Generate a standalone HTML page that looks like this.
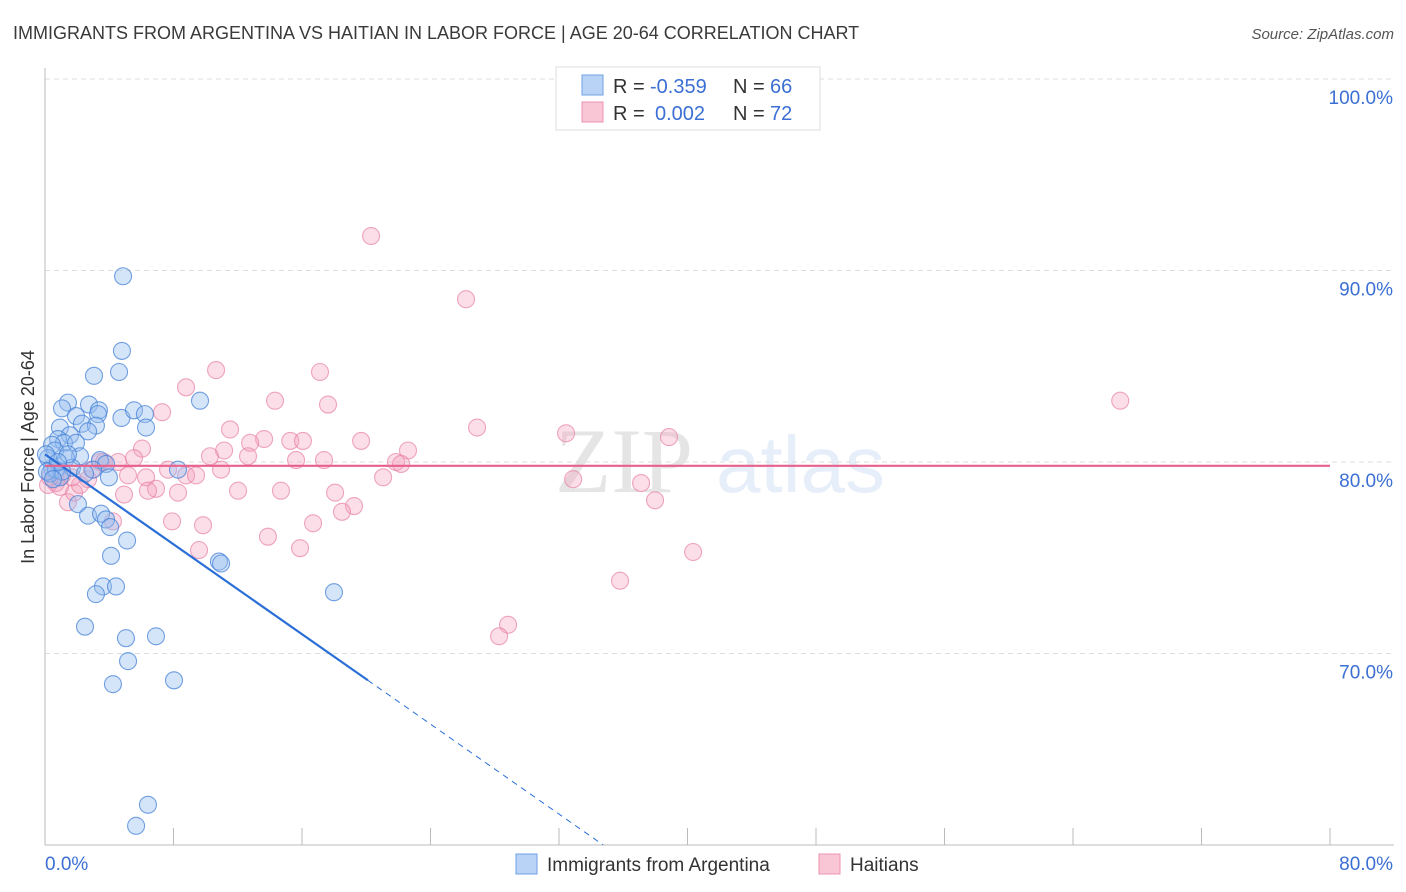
<!DOCTYPE html>
<html><head><meta charset="utf-8"><style>
body{margin:0;background:#fff;font-family:"Liberation Sans",sans-serif}
svg{display:block}
</style></head><body>
<svg id="chart" width="1406" height="892" xmlns="http://www.w3.org/2000/svg" font-family="Liberation Sans, sans-serif">
<text x="13" y="39" font-size="18" fill="#3a3a3a">IMMIGRANTS FROM ARGENTINA VS HAITIAN IN LABOR FORCE | AGE 20-64 CORRELATION CHART</text>
<text x="1394" y="39" font-size="15" fill="#555" text-anchor="end" font-style="italic">Source: ZipAtlas.com</text>
<g opacity="0.12"><text x="555" y="492" font-size="92" font-family="Liberation Serif, serif" fill="#333">ZIP</text><text x="716" y="492" font-size="80" fill="#3b78d8">atlas</text></g>
<g id="grid"></g>
<g id="axes"></g>
<g id="marks"></g>
<g>
<rect x="556" y="67" width="264" height="63" fill="#fff" stroke="#ddd"/>
<rect x="582" y="75" width="21" height="20" fill="#b8d3f5" stroke="#6fa0e6"/>
<rect x="582" y="102" width="21" height="20" fill="#f9c6d6" stroke="#ec92b0"/>
<text x="613" y="93" font-size="20" fill="#333">R =</text>
<text x="650" y="93" font-size="20" fill="#3b6fd4">-0.359</text>
<text x="733" y="93" font-size="20" fill="#333">N =</text>
<text x="770" y="93" font-size="20" fill="#3b6fd4">66</text>
<text x="613" y="120" font-size="20" fill="#333">R =</text>
<text x="655" y="120" font-size="20" fill="#3b6fd4">0.002</text>
<text x="733" y="120" font-size="20" fill="#333">N =</text>
<text x="770" y="120" font-size="20" fill="#3b6fd4">72</text>
</g>
<g>
<rect x="516" y="854" width="21" height="20" fill="#b8d3f5" stroke="#6fa0e6"/>
<text x="547" y="871" font-size="19" fill="#333">Immigrants from Argentina</text>
<rect x="819" y="854" width="21" height="20" fill="#f9c6d6" stroke="#ec92b0"/>
<text x="850" y="871" font-size="19" fill="#333">Haitians</text>
</g>
<text transform="translate(34,457) rotate(-90)" font-size="18" fill="#333" text-anchor="middle">In Labor Force | Age 20-64</text>
</svg>
<script>
const blueX=[4.86,4.79,4.61,3.05,9.65,1.43,1.06,2.74,3.36,3.30,4.76,5.54,6.22,1.93,2.30,3.17,6.29,0.93,2.68,1.55,0.81,1.18,0.44,1.93,0.62,2.18,1.31,3.42,3.80,1.68,8.28,2.99,0.44,0.93,3.98,2.05,2.68,3.49,3.80,4.05,5.11,4.11,10.83,10.96,3.61,4.42,3.17,17.99,2.49,5.04,6.91,5.17,8.03,4.23,6.41,5.67,0.19,0.31,0.68,1.06,0.06,1.43,2.49,0.81,0.12,0.50];
const blueY=[89.7,85.8,84.7,84.5,83.2,83.1,82.8,83.0,82.7,82.5,82.3,82.7,82.5,82.4,82.0,81.9,81.8,81.8,81.6,81.4,81.2,81.0,80.9,81.0,80.6,80.3,80.2,80.1,79.9,79.7,79.6,79.6,79.7,79.2,79.2,77.8,77.2,77.3,77.0,76.6,75.9,75.1,74.8,74.7,73.5,73.5,73.1,73.2,71.4,70.8,70.9,69.6,68.6,68.4,62.1,61.0,80.2,79.4,79.6,79.5,80.4,80.4,79.4,80.0,79.5,79.1];
const pinkX=[20.30,26.21,66.94,10.65,17.12,8.78,14.32,17.62,7.29,26.90,32.44,38.85,11.52,13.64,12.77,15.27,16.06,19.68,6.04,11.15,22.60,10.27,12.64,15.63,17.37,21.85,22.17,5.54,4.55,3.42,7.66,8.78,9.40,10.96,5.17,6.29,6.91,6.41,8.28,2.68,21.05,32.88,37.11,12.02,14.69,18.06,4.92,19.24,18.49,37.98,1.43,1.81,7.91,4.23,9.84,16.69,13.88,15.88,9.59,40.35,35.80,28.83,28.27,0.19,0.68,0.93,2.18,0.31,2.93,3.67,1.68,1.06];
const pinkY=[91.8,88.5,83.2,84.8,84.7,83.9,83.2,83.0,82.6,81.8,81.5,81.3,81.7,81.2,81.0,81.1,81.1,81.1,80.7,80.6,80.6,80.3,80.3,80.1,80.1,80.0,79.9,80.2,80.0,80.0,79.6,79.3,79.3,79.6,79.3,79.2,78.6,78.5,78.4,79.1,79.2,79.1,78.9,78.5,78.5,78.4,78.3,77.7,77.4,78.0,77.9,78.4,76.9,76.9,76.7,76.8,76.1,75.5,75.4,75.3,73.8,71.5,70.9,78.8,78.9,78.7,78.8,79.2,79.6,80.0,79.2,79.3];
const yTicks=[100,90,80,70];
const yTickLabels=["100.0%","90.0%","80.0%","70.0%"];
const xTicks=[0,8,16,24,32,40,48,56,64,72,80];
const blueTrend=[80.4,-0.587];
const pinkTrend=[79.8,0.0];
const X0=45,X1=1330,Y0=845,Y1=79;
const xs=v=>X0+(v/80)*(X1-X0);
const ys=v=>Y1+(100-v)*(Y1-Y0)/-40;
const NS="http://www.w3.org/2000/svg";
function mk(tag,attrs,parent){const e=document.createElementNS(NS,tag);for(const k in attrs)e.setAttribute(k,attrs[k]);parent.appendChild(e);return e;}
const grid=document.getElementById('grid'),axes=document.getElementById('axes'),marks=document.getElementById('marks');
yTicks.forEach((t,i)=>{
 const l=mk('line',{x1:X0,x2:1394,y1:ys(t),y2:ys(t),stroke:'#ddd','stroke-dasharray':'5,4'},grid);
 
 
 const tx=mk('text',{x:1393,y:ys(t)+25,'font-size':19,fill:'#3b6fd4','text-anchor':'end'},axes);
 tx.textContent=yTickLabels[i];
 
 
});
const ya=mk('line',{x1:X0,x2:X0,y1:68,y2:Y0,stroke:'#bbb'},axes);


const xa=mk('line',{x1:X0,x2:1394,y1:Y0,y2:Y0,stroke:'#bbb'},axes);


xTicks.forEach(t=>{
 const tk=mk('line',{x1:xs(t),x2:xs(t),y1:828,y2:Y0,stroke:'#bbb'},axes);
 
 
});
const xl0=mk('text',{x:45,y:870,'font-size':19,fill:'#3b6fd4'},axes);xl0.textContent='0.0%';


const xl1=mk('text',{x:1393,y:870,'font-size':19,fill:'#3b6fd4','text-anchor':'end'},axes);xl1.textContent='80.0%';


pinkX.forEach((v,i)=>{
 const c=mk('circle',{cx:xs(v),cy:ys(pinkY[i]),r:8.5,fill:'rgba(244,160,188,0.35)',stroke:'rgba(232,130,165,0.7)','stroke-width':1.1},marks);
 
 
});
blueX.forEach((v,i)=>{
 const c=mk('circle',{cx:xs(v),cy:ys(blueY[i]),r:8.5,fill:'rgba(150,190,240,0.4)',stroke:'rgba(70,130,215,0.75)','stroke-width':1.1},marks);
 
 
});
const bEnd=20.1, bBot=(60-blueTrend[0])/blueTrend[1];
const bl=mk('line',{x1:xs(0),y1:ys(blueTrend[0]),x2:xs(bEnd),y2:ys(blueTrend[0]+blueTrend[1]*bEnd),stroke:'#2a6fd6','stroke-width':2.2},marks);


const bd=mk('line',{x1:xs(bEnd),y1:ys(blueTrend[0]+blueTrend[1]*bEnd),x2:xs(bBot),y2:ys(60),stroke:'#2a6fd6','stroke-width':1,'stroke-dasharray':'6,5'},marks);


const pl=mk('line',{x1:xs(0),y1:ys(pinkTrend[0]),x2:xs(80),y2:ys(pinkTrend[0]+pinkTrend[1]*80),stroke:'#e8608c','stroke-width':2.2},marks);


</script>
</body></html>
